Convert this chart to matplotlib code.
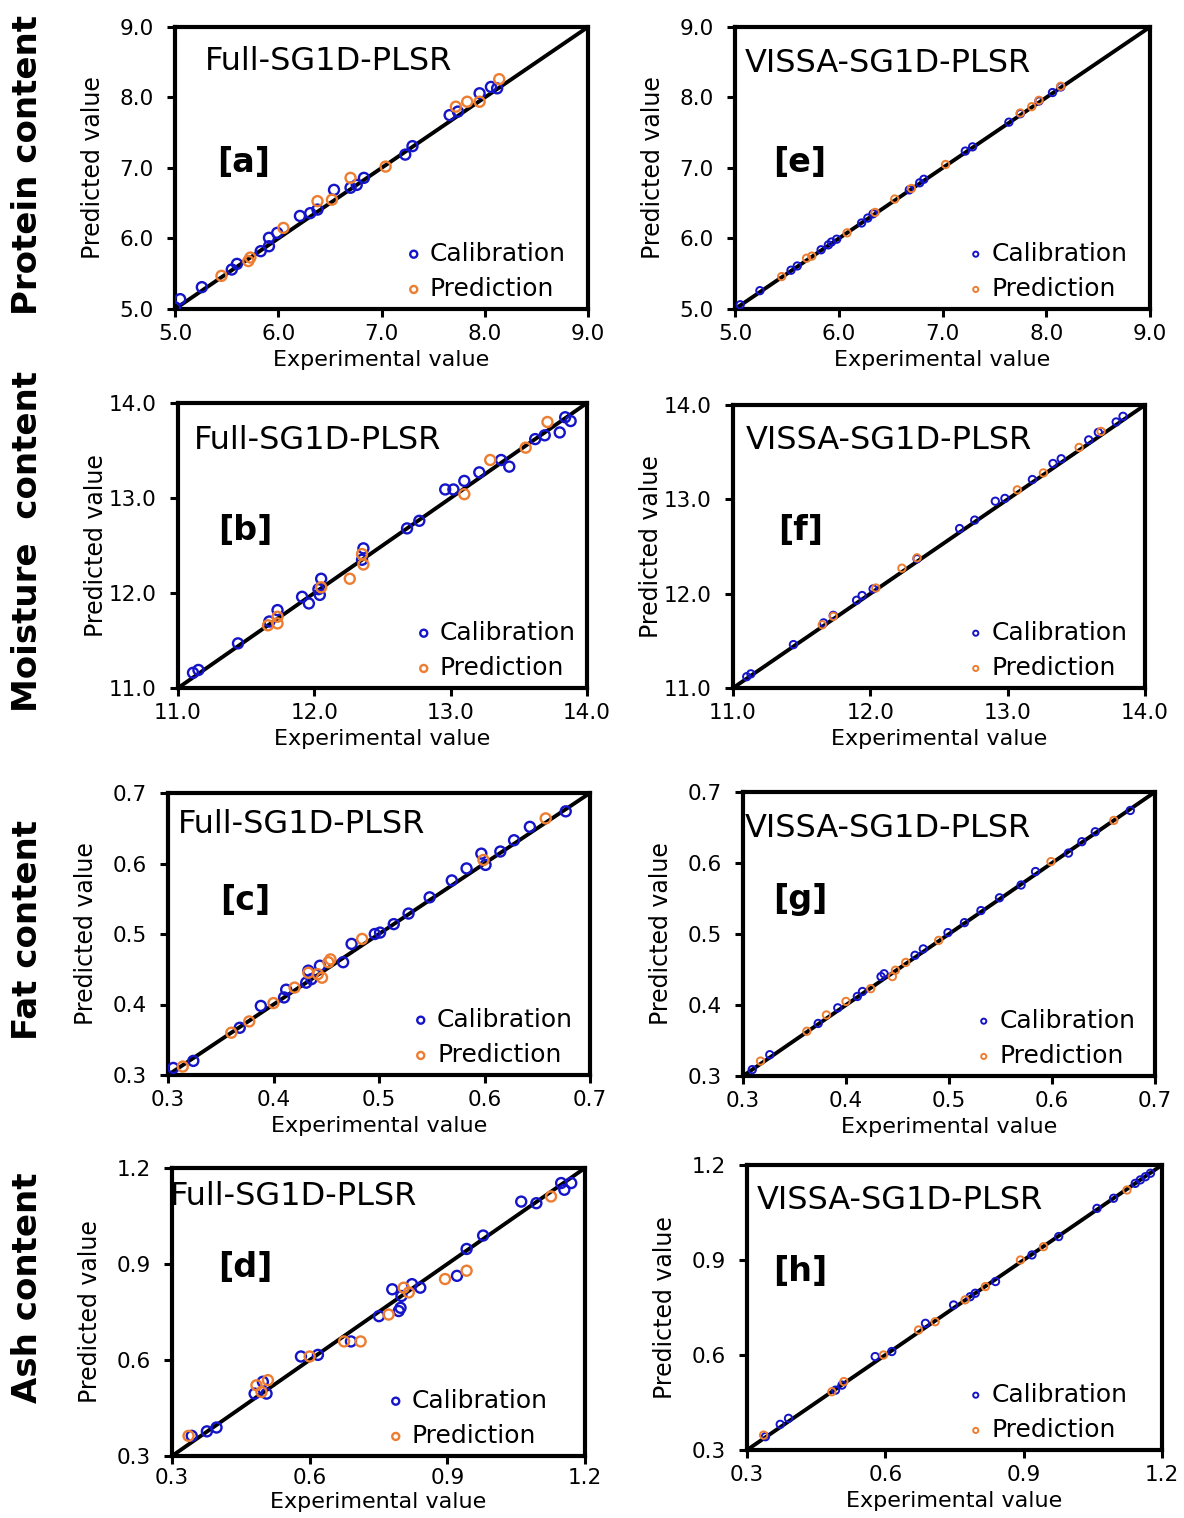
import matplotlib
matplotlib.use("Agg")
import matplotlib.pyplot as plt
from matplotlib.ticker import FormatStrFormatter

plt.rcParams['font.family'] = ['DejaVu Sans']

# ---------------- data ----------------
# [a] Protein, Full-SG1D-PLSR
a_cal_x = [5.00, 5.05, 5.26, 5.55, 5.60, 5.83, 5.91, 5.91, 5.99, 6.21, 6.31, 6.38, 6.54, 6.70, 6.76, 6.83, 7.23, 7.30, 7.66, 7.74, 7.95, 8.06, 8.12]
a_cal_y = [5.02, 5.14, 5.31, 5.56, 5.64, 5.82, 5.89, 6.01, 6.08, 6.32, 6.36, 6.41, 6.69, 6.72, 6.76, 6.86, 7.19, 7.31, 7.75, 7.80, 8.06, 8.15, 8.13]
a_pre_x = [5.45, 5.71, 5.73, 6.05, 6.38, 6.52, 6.70, 7.04, 7.72, 7.83, 7.95, 8.14]
a_pre_y = [5.47, 5.68, 5.73, 6.15, 6.53, 6.55, 6.86, 7.02, 7.87, 7.94, 7.94, 8.26]

# [b] Moisture, Full-SG1D-PLSR
b_cal_x = [11.11, 11.15, 11.44, 11.67, 11.73, 11.91, 11.96, 12.03, 12.04, 12.05, 12.35, 12.36, 12.68, 12.77, 12.96, 13.02, 13.10, 13.21, 13.37, 13.43, 13.62, 13.69, 13.80, 13.84, 13.88]
b_cal_y = [11.16, 11.19, 11.47, 11.70, 11.82, 11.96, 11.89, 12.04, 11.98, 12.15, 12.35, 12.47, 12.68, 12.76, 13.09, 13.09, 13.18, 13.27, 13.40, 13.33, 13.62, 13.66, 13.69, 13.85, 13.81]
b_pre_x = [11.66, 11.73, 11.73, 12.05, 12.26, 12.35, 12.36, 13.10, 13.29, 13.55, 13.71]
b_pre_y = [11.66, 11.75, 11.68, 12.06, 12.15, 12.41, 12.30, 13.04, 13.40, 13.53, 13.80]

# [c] Fat, Full-SG1D-PLSR
c_cal_x = [0.305, 0.324, 0.368, 0.388, 0.410, 0.412, 0.431, 0.436, 0.433, 0.444, 0.466, 0.474, 0.496, 0.501, 0.514, 0.528, 0.548, 0.569, 0.583, 0.597, 0.601, 0.615, 0.628, 0.643, 0.677]
c_cal_y = [0.310, 0.320, 0.367, 0.398, 0.410, 0.421, 0.431, 0.436, 0.448, 0.455, 0.460, 0.486, 0.500, 0.502, 0.514, 0.529, 0.552, 0.576, 0.593, 0.614, 0.598, 0.617, 0.633, 0.652, 0.674]
c_pre_x = [0.314, 0.360, 0.377, 0.400, 0.420, 0.433, 0.442, 0.446, 0.452, 0.454, 0.484, 0.599, 0.658]
c_pre_y = [0.312, 0.360, 0.376, 0.402, 0.424, 0.445, 0.443, 0.438, 0.460, 0.464, 0.493, 0.605, 0.664]

# [d] Ash, Full-SG1D-PLSR
d_cal_x = [0.343, 0.376, 0.397, 0.480, 0.498, 0.506, 0.581, 0.618, 0.690, 0.751, 0.794, 0.798, 0.780, 0.800, 0.823, 0.841, 0.921, 0.942, 0.978, 1.061, 1.094, 1.148, 1.155, 1.170]
d_cal_y = [0.363, 0.377, 0.389, 0.495, 0.532, 0.495, 0.611, 0.616, 0.658, 0.737, 0.753, 0.763, 0.821, 0.800, 0.837, 0.826, 0.863, 0.947, 0.989, 1.095, 1.090, 1.153, 1.132, 1.153]
d_pre_x = [0.336, 0.484, 0.509, 0.495, 0.600, 0.675, 0.711, 0.772, 0.805, 0.816, 0.895, 0.942, 1.126]
d_pre_y = [0.363, 0.521, 0.537, 0.500, 0.611, 0.658, 0.658, 0.742, 0.826, 0.811, 0.853, 0.879, 1.111]

# [e] Protein, VISSA-SG1D-PLSR
e_cal_x = [5.05, 5.24, 5.54, 5.60, 5.83, 5.90, 5.93, 5.98, 6.22, 6.28, 6.33, 6.68, 6.78, 6.82, 7.22, 7.29, 7.64, 7.75, 7.93, 8.06, 8.14]
e_cal_y = [5.06, 5.26, 5.55, 5.61, 5.84, 5.91, 5.95, 5.99, 6.22, 6.29, 6.35, 6.69, 6.79, 6.84, 7.24, 7.30, 7.65, 7.77, 7.95, 8.07, 8.15]
e_pre_x = [5.45, 5.69, 5.74, 6.08, 6.35, 6.54, 6.70, 7.03, 7.75, 7.86, 7.93, 8.14]
e_pre_y = [5.46, 5.72, 5.75, 6.08, 6.37, 6.56, 6.71, 7.05, 7.78, 7.87, 7.96, 8.16]

# [f] Moisture, VISSA-SG1D-PLSR
f_cal_x = [11.10, 11.13, 11.44, 11.66, 11.73, 11.90, 11.94, 12.02, 12.34, 12.65, 12.76, 12.91, 12.98, 13.18, 13.33, 13.39, 13.59, 13.66, 13.79, 13.84]
f_cal_y = [11.12, 11.15, 11.46, 11.69, 11.77, 11.93, 11.98, 12.05, 12.37, 12.69, 12.78, 12.98, 13.01, 13.21, 13.38, 13.43, 13.63, 13.71, 13.82, 13.88]
f_pre_x = [11.65, 11.73, 12.04, 12.23, 12.34, 13.07, 13.26, 13.52, 13.68]
f_pre_y = [11.67, 11.76, 12.06, 12.27, 12.38, 13.10, 13.28, 13.55, 13.72]

# [g] Fat, VISSA-SG1D-PLSR
g_cal_x = [0.309, 0.326, 0.373, 0.392, 0.411, 0.416, 0.434, 0.437, 0.467, 0.475, 0.499, 0.515, 0.531, 0.549, 0.570, 0.584, 0.616, 0.629, 0.642, 0.676]
g_cal_y = [0.309, 0.330, 0.374, 0.396, 0.412, 0.419, 0.440, 0.444, 0.470, 0.479, 0.502, 0.516, 0.533, 0.551, 0.569, 0.588, 0.614, 0.630, 0.644, 0.674]
g_pre_x = [0.317, 0.362, 0.381, 0.400, 0.424, 0.445, 0.448, 0.458, 0.490, 0.599, 0.660]
g_pre_y = [0.321, 0.363, 0.386, 0.405, 0.423, 0.440, 0.449, 0.460, 0.491, 0.602, 0.660]

# [h] Ash, VISSA-SG1D-PLSR
h_cal_x = [0.340, 0.372, 0.390, 0.492, 0.506, 0.578, 0.614, 0.687, 0.748, 0.784, 0.795, 0.839, 0.918, 0.976, 1.059, 1.095, 1.142, 1.153, 1.164, 1.175]
h_cal_y = [0.342, 0.381, 0.400, 0.489, 0.505, 0.595, 0.611, 0.700, 0.758, 0.784, 0.795, 0.832, 0.916, 0.974, 1.063, 1.095, 1.142, 1.153, 1.163, 1.174]
h_pre_x = [0.336, 0.484, 0.510, 0.596, 0.672, 0.708, 0.773, 0.817, 0.893, 0.943, 1.124]
h_pre_y = [0.347, 0.484, 0.516, 0.600, 0.679, 0.705, 0.774, 0.816, 0.900, 0.942, 1.121]

protein_ticks = [5.0, 6.0, 7.0, 8.0, 9.0]
moisture_ticks = [11.0, 12.0, 13.0, 14.0]
fat_ticks = [0.3, 0.4, 0.5, 0.6, 0.7]
ash_ticks = [0.3, 0.6, 0.9, 1.2]

row_labels = ["Protein content", "Moisture  content", "Fat content", "Ash content"]
model_full = "Full-SG1D-PLSR"
model_vissa = "VISSA-SG1D-PLSR"
series_names = ["Calibration", "Prediction"]
x_label = "Experimental value"
y_label = "Predicted value"

CAL_COLOR = '#1414c8'
PRE_COLOR = '#ed7d31'

W, H = 1184, 1518
fig = plt.figure(figsize=(W / 100, H / 100), dpi=100)
fig.patch.set_facecolor('white')


def rect(l, r, t, b):
    return [l / W, 1 - b / H, (r - l) / W, (b - t) / H]


panels = [
    dict(box=(175, 588, 27, 309), cx=a_cal_x, cy=a_cal_y, px=a_pre_x, py=a_pre_y,
         ticks=protein_ticks, name=model_full, tag='[a]', tpos=(0.073, 0.876), gpos=(0.165, 0.52),
         lgap=22, ms=52, lw=1.7, xpad=5.5, xl=41),
    dict(box=(178, 587, 403, 688), cx=b_cal_x, cy=b_cal_y, px=b_pre_x, py=b_pre_y,
         ticks=moisture_ticks, name=model_full, tag='[b]', tpos=(0.04, 0.87), gpos=(0.164, 0.554),
         lgap=11, ms=52, lw=1.7, xpad=5.5, xl=41),
    dict(box=(168, 590, 793, 1075), cx=c_cal_x, cy=c_cal_y, px=c_pre_x, py=c_pre_y,
         ticks=fat_ticks, name=model_full, tag='[c]', tpos=(0.024, 0.887), gpos=(0.182, 0.62),
         lgap=17, ms=52, lw=1.7, xpad=5.5, xl=41),
    dict(box=(172, 585, 1168, 1456), cx=d_cal_x, cy=d_cal_y, px=d_pre_x, py=d_pre_y,
         ticks=ash_ticks, name=model_full, tag='[d]', tpos=(-0.005, 0.90), gpos=(0.177, 0.655),
         lgap=37, ms=52, lw=1.7, xpad=3.5, xl=36),
    dict(box=(735, 1150, 27, 309), cx=e_cal_x, cy=e_cal_y, px=e_pre_x, py=e_pre_y,
         ticks=protein_ticks, name=model_vissa, tag='[e]', tpos=(0.024, 0.872), gpos=(0.157, 0.52),
         lgap=22, ms=28, lw=1.4, xpad=5.5, xl=41),
    dict(box=(733, 1145, 405, 688), cx=f_cal_x, cy=f_cal_y, px=f_pre_x, py=f_pre_y,
         ticks=moisture_ticks, name=model_vissa, tag='[f]', tpos=(0.03, 0.876), gpos=(0.163, 0.558),
         lgap=17, ms=28, lw=1.4, xpad=5.5, xl=41),
    dict(box=(743, 1155, 792, 1076), cx=g_cal_x, cy=g_cal_y, px=g_pre_x, py=g_pre_y,
         ticks=fat_ticks, name=model_vissa, tag='[g]', tpos=(0.005, 0.87), gpos=(0.138, 0.62),
         lgap=19, ms=28, lw=1.4, xpad=5.5, xl=41),
    dict(box=(747, 1162, 1165, 1450), cx=h_cal_x, cy=h_cal_y, px=h_pre_x, py=h_pre_y,
         ticks=ash_ticks, name=model_vissa, tag='[h]', tpos=(0.024, 0.877), gpos=(0.128, 0.625),
         lgap=34, ms=28, lw=1.4, xpad=5.5, xl=41),
]

for p in panels:
    l, r, t, b = p['box']
    axw, axh = r - l, b - t
    ax = fig.add_axes(rect(l, r, t, b))
    lo, hi = p['ticks'][0], p['ticks'][-1]
    ax.set_xlim(lo, hi)
    ax.set_ylim(lo, hi)
    ax.plot([lo, hi], [lo, hi], color='black', lw=2.8, zorder=1, solid_capstyle='butt')
    ax.scatter(p['cx'], p['cy'], s=p['ms'], facecolors='none', edgecolors=CAL_COLOR,
               linewidths=p['lw'], zorder=3, label=series_names[0])
    ax.scatter(p['px'], p['py'], s=p['ms'], facecolors='none', edgecolors=PRE_COLOR,
               linewidths=p['lw'], zorder=3, label=series_names[1])
    ax.set_xticks(p['ticks'])
    ax.set_yticks(p['ticks'])
    ax.xaxis.set_major_formatter(FormatStrFormatter('%.1f'))
    ax.yaxis.set_major_formatter(FormatStrFormatter('%.1f'))
    ax.tick_params(axis='both', direction='out', length=5.5, width=2.2, labelsize=15.5)
    ax.tick_params(axis='x', pad=p['xpad'])
    ax.tick_params(axis='y', pad=10)
    for sp in ax.spines.values():
        sp.set_linewidth(3.0)
    ax.set_xlabel(x_label, fontsize=16)
    ax.xaxis.set_label_coords(0.5, -p['xl'] / axh)
    ax.set_ylabel(y_label, fontsize=17)
    ax.yaxis.set_label_coords(-70 / axw, 0.5)
    ax.text(p['tpos'][0], p['tpos'][1], p['name'], transform=ax.transAxes,
            fontsize=23, ha='left', va='center')
    ax.text(p['gpos'][0], p['gpos'][1], p['tag'], transform=ax.transAxes,
            fontsize=24, fontweight='bold', ha='center', va='center')
    ax.legend(loc='lower right', bbox_to_anchor=(1 - p['lgap'] / axw, 8 / axh),
              frameon=False, fontsize=18, handletextpad=0.15, handlelength=1.0,
              labelspacing=0.45, borderpad=0, borderaxespad=0, markerscale=0.7)

row_centers = [165, 542, 930, 1288]
for lab, yc in zip(row_labels, row_centers):
    fig.text(28 / W, 1 - yc / H, lab, rotation=90, ha='center', va='center',
             fontsize=24.5, fontweight='bold')

fig.savefig('out.png', dpi=100, facecolor='white')
